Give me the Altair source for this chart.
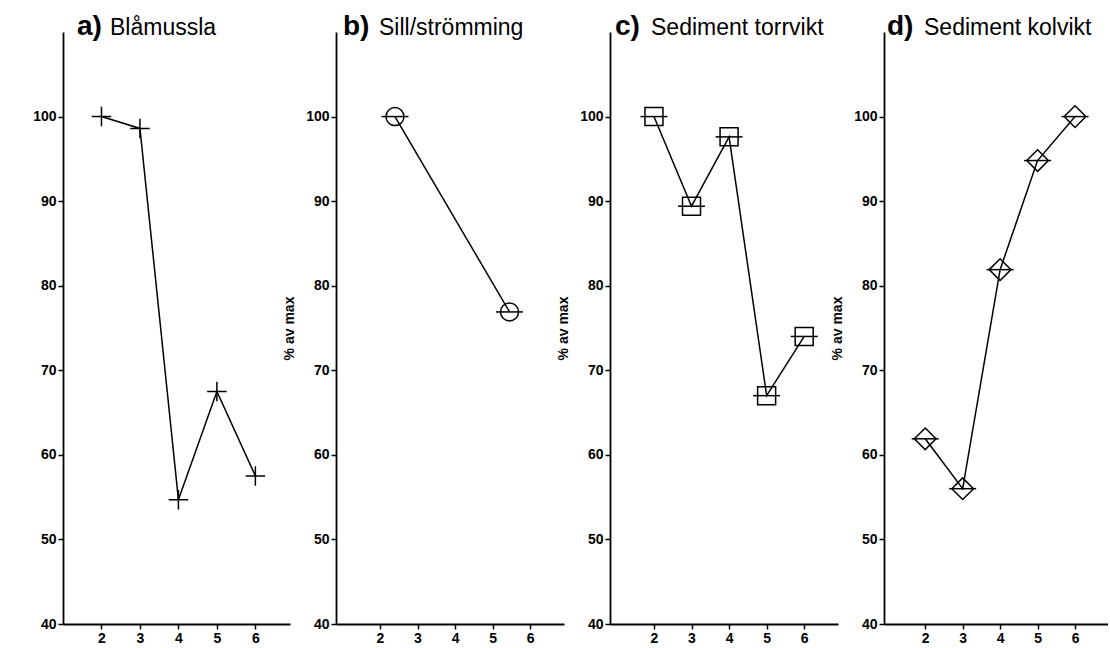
import altair as alt
import pandas as pd

# ---- data ----
panel_letters = ["a)", "b)", "c)", "d)"]
panel_names = ["Blåmussla", "Sill/strömming", "Sediment torrvikt", "Sediment kolvikt"]

x_a = [2, 3, 4, 5, 6]
y_a = [100, 98.6, 54.7, 67.5, 57.5]

x_b = [2.4, 5.45]
y_b = [100, 76.9]

x_c = [2, 3, 4, 5, 6]
y_c = [100, 89.4, 97.6, 67.0, 74.0]

x_d = [2, 3, 4, 5, 6]
y_d = [61.9, 56.0, 81.9, 94.8, 100]

x_ticks = [2, 3, 4, 5, 6]
y_ticks = [40, 50, 60, 70, 80, 90, 100]
y_title = "% av max"

# ---- layout / style ----
FONT = "Liberation Sans"
H = 592
panel_widths = [227, 228, 228, 224]
x_domains = [[1, 6.9], [0.83, 6.9], [0.83, 6.9], [0.9, 6.88]]
letter_dx = [14, 7, 5, 3]
name_dx = [47, 43, 41, 40]
shapes = ["M-1,0L1,0M0,-1L0,1", "circle", "square", "diamond"]
shape_sizes = [380, 324, 324, 470]
show_bar = [False, True, True, True]
show_ytitle = [False, True, True, True]


def panel(i, xs, ys):
    df = pd.DataFrame({"x": xs, "y": ys})
    xenc = alt.X(
        "x:Q",
        scale=alt.Scale(domain=x_domains[i], nice=False, zero=False),
        axis=alt.Axis(values=x_ticks, title=None, format="d"),
    )
    yaxis_kw = dict(values=y_ticks, format="d")
    if show_ytitle[i]:
        yaxis_kw["title"] = y_title
    else:
        yaxis_kw["title"] = None
    yenc = alt.Y(
        "y:Q",
        scale=alt.Scale(domain=[40, 110], nice=False, zero=False),
        axis=alt.Axis(**yaxis_kw),
    )
    base = alt.Chart(df).encode(x=xenc, y=yenc)
    layers = [base.mark_line(color="black", strokeWidth=1.5)]
    if show_bar[i]:
        layers.append(
            base.mark_point(
                shape="M-1,0L1,0", size=729, color="black", strokeWidth=1.5,
                filled=False, opacity=1,
            )
        )
    layers.append(
        base.mark_point(
            shape=shapes[i], size=shape_sizes[i], color="black", strokeWidth=1.5,
            filled=False, opacity=1,
        )
    )
    tdf = pd.DataFrame({"letter": [panel_letters[i]], "name": [panel_names[i]]})
    tbase = alt.Chart(tdf)
    layers.append(
        tbase.mark_text(
            font=FONT, fontSize=28, fontWeight="bold", align="left",
            baseline="alphabetic", color="black",
        ).encode(text="letter:N", x=alt.value(letter_dx[i]), y=alt.value(3))
    )
    layers.append(
        tbase.mark_text(
            font=FONT, fontSize=23, align="left", baseline="alphabetic",
            color="black",
        ).encode(text="name:N", x=alt.value(name_dx[i]), y=alt.value(3))
    )
    return alt.layer(*layers).properties(width=panel_widths[i], height=H)


charts = [
    panel(0, x_a, y_a),
    panel(1, x_b, y_b),
    panel(2, x_c, y_c),
    panel(3, x_d, y_d),
]

chart = (
    alt.hconcat(*charts, spacing=46, bounds="flush")
    .properties(
        padding={"left": 32, "top": 13, "right": 0, "bottom": 0},
        background="white",
    )
    .configure_view(stroke=None)
    .configure_axis(
        grid=False,
        domainColor="black",
        domainWidth=1.8,
        tickColor="black",
        tickWidth=1.5,
        tickSize=5,
        labelFont=FONT,
        labelFontSize=14,
        labelFontWeight="bold",
        labelColor="black",
        labelPadding=2,
        titleFont=FONT,
        titleFontSize=14,
        titleFontWeight="bold",
        titleColor="black",
        titlePadding=9,
    )
)

chart.save("out.html", embed_options={"renderer": "svg", "actions": False})
